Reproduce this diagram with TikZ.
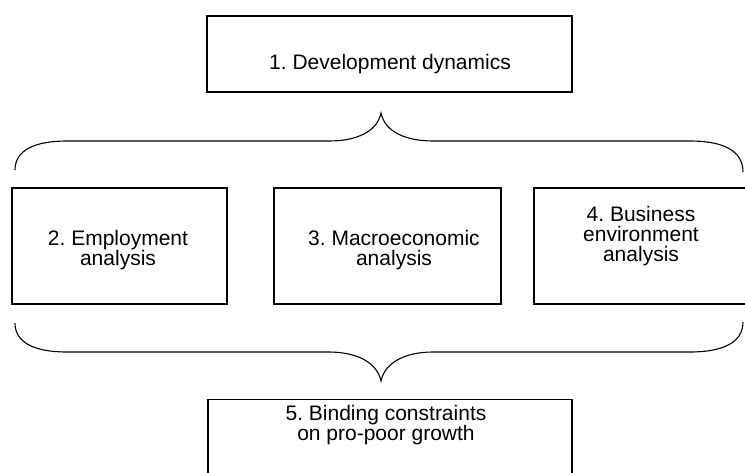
\documentclass[tikz,border=0pt]{standalone}
\usepackage{fontspec}
\setmainfont{Liberation Sans}
\frenchspacing
\begin{document}
\begin{tikzpicture}[x=1pt,y=-1pt,
  boxstyle/.style={draw,line width=1.1pt,rectangle,inner sep=0pt,outer sep=0pt},
  txt/.style={align=center,inner sep=0pt,anchor=base,font=\fontsize{21}{19.8}\selectfont},
  bracestyle/.style={line width=1.1pt}]
\useasboundingbox (0,0) rectangle (745,472);
% boxes
\node[boxstyle,minimum width=365pt,minimum height=76pt] (b1) at (389.5,54) {};
\node[boxstyle,minimum width=215pt,minimum height=116pt] (b2) at (119.5,246) {};
\node[boxstyle,minimum width=227pt,minimum height=116pt] (b3) at (387.5,246) {};
\node[boxstyle,minimum width=216pt,minimum height=116pt] (b4) at (642,246) {};
\node[boxstyle,minimum width=364pt,minimum height=80pt] (b5) at (390,439.5) {};
% texts (base anchor = baseline of last line)
\node[txt] (t1) at (390,69.3) {1. Development dynamics};
\node[txt] (t2) at (118,265.5) {2. Employment\\analysis};
\node[txt] (t3) at (394,265) {3. Macroeconomic\\analysis};
\node[txt] (t4) at (641,261) {4. Business\\environment\\analysis};
\node[txt] (t5) at (386,440.3) {5. Binding constraints\\on pro-poor growth};
% braces
\coordinate (tipA) at (381,113);
\coordinate (tipB) at (381,381);
\draw[bracestyle] (15,170) .. controls (15,150) and (35,141) .. (67,141)
  -- (329,141) .. controls (356,141) and (377,132) .. (tipA)
  .. controls (385,132) and (406,141) .. (433,141)
  -- (690,141) .. controls (722,141) and (743,150) .. (743,172);
\draw[bracestyle] (15,323) .. controls (15,343) and (35,352) .. (67,352)
  -- (329,352) .. controls (356,352) and (377,362) .. (tipB)
  .. controls (385,362) and (406,352) .. (433,352)
  -- (690,352) .. controls (722,352) and (743,343) .. (743,322);
\end{tikzpicture}
\end{document}
